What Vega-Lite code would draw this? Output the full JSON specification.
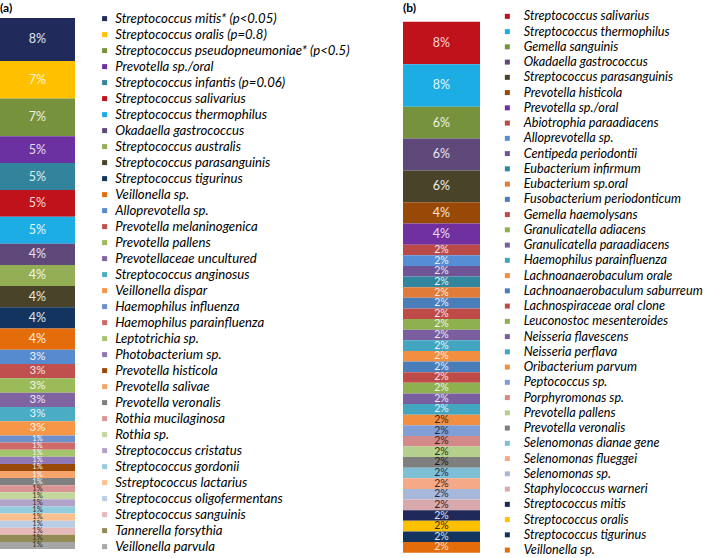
{
  "$schema": "https://vega.github.io/schema/vega-lite/v6.json",
  "padding": {"left": 0, "top": 2, "right": 0, "bottom": 0},
  "background": "white",
  "spacing": 51,
  "config": {"view": {"stroke": null}, "font": "Lato"},
  "resolve": {"scale": {"color": "independent", "y": "independent", "x": "independent", "size": "independent"}, "legend": {"color": "independent"}},
  "datasets": {
    "a": [
      {"order": 1, "species": "Streptococcus mitis* (p<0.05)", "value": 8, "label": "8%"},
      {"order": 2, "species": "Streptococcus oralis (p=0.8)", "value": 7, "label": "7%"},
      {"order": 3, "species": "Streptococcus pseudopneumoniae* (p<0.5)", "value": 7, "label": "7%"},
      {"order": 4, "species": "Prevotella sp./oral", "value": 5, "label": "5%"},
      {"order": 5, "species": "Streptococcus infantis (p=0.06)", "value": 5, "label": "5%"},
      {"order": 6, "species": "Streptococcus salivarius", "value": 5, "label": "5%"},
      {"order": 7, "species": "Streptococcus thermophilus", "value": 5, "label": "5%"},
      {"order": 8, "species": "Okadaella gastrococcus", "value": 3.95, "label": "4%"},
      {"order": 9, "species": "Streptococcus australis", "value": 3.95, "label": "4%"},
      {"order": 10, "species": "Streptococcus parasanguinis", "value": 3.95, "label": "4%"},
      {"order": 11, "species": "Streptococcus tigurinus", "value": 3.95, "label": "4%"},
      {"order": 12, "species": "Veillonella sp.", "value": 3.95, "label": "4%"},
      {"order": 13, "species": "Alloprevotella sp.", "value": 2.66, "label": "3%"},
      {"order": 14, "species": "Prevotella melaninogenica", "value": 2.66, "label": "3%"},
      {"order": 15, "species": "Prevotella pallens", "value": 2.66, "label": "3%"},
      {"order": 16, "species": "Prevotellaceae uncultured", "value": 2.66, "label": "3%"},
      {"order": 17, "species": "Streptococcus anginosus", "value": 2.66, "label": "3%"},
      {"order": 18, "species": "Veillonella dispar", "value": 2.66, "label": "3%"},
      {"order": 19, "species": "Haemophilus influenza", "value": 1.32, "label": "1%"},
      {"order": 20, "species": "Haemophilus parainfluenza", "value": 1.32, "label": "1%"},
      {"order": 21, "species": "Leptotrichia sp.", "value": 1.32, "label": "1%"},
      {"order": 22, "species": "Photobacterium sp.", "value": 1.32, "label": "1%"},
      {"order": 23, "species": "Prevotella histicola", "value": 1.32, "label": "1%"},
      {"order": 24, "species": "Prevotella salivae", "value": 1.32, "label": "1%"},
      {"order": 25, "species": "Prevotella veronalis", "value": 1.32, "label": "1%"},
      {"order": 26, "species": "Rothia mucilaginosa", "value": 1.32, "label": "1%"},
      {"order": 27, "species": "Rothia sp.", "value": 1.32, "label": "1%"},
      {"order": 28, "species": "Streptococcus cristatus", "value": 1.32, "label": "1%"},
      {"order": 29, "species": "Streptococcus gordonii", "value": 1.32, "label": "1%"},
      {"order": 30, "species": "Sstreptococcus lactarius", "value": 1.32, "label": "1%"},
      {"order": 31, "species": "Streptococcus oligofermentans", "value": 1.32, "label": "1%"},
      {"order": 32, "species": "Streptococcus sanguinis", "value": 1.32, "label": "1%"},
      {"order": 33, "species": "Tannerella forsythia", "value": 1.32, "label": "1%"},
      {"order": 34, "species": "Veillonella parvula", "value": 1.32, "label": "1%"}
    ],
    "b": [
      {"order": 1, "species": "Streptococcus salivarius", "value": 8, "label": "8%"},
      {"order": 2, "species": "Streptococcus thermophilus", "value": 8, "label": "8%"},
      {"order": 3, "species": "Gemella sanguinis", "value": 6, "label": "6%"},
      {"order": 4, "species": "Okadaella gastrococcus", "value": 6, "label": "6%"},
      {"order": 5, "species": "Streptococcus parasanguinis", "value": 6, "label": "6%"},
      {"order": 6, "species": "Prevotella histicola", "value": 4, "label": "4%"},
      {"order": 7, "species": "Prevotella sp./oral", "value": 4, "label": "4%"},
      {"order": 8, "species": "Abiotrophia paraadiacens", "value": 2, "label": "2%"},
      {"order": 9, "species": "Alloprevotella sp.", "value": 2, "label": "2%"},
      {"order": 10, "species": "Centipeda periodontii", "value": 2, "label": "2%"},
      {"order": 11, "species": "Eubacterium infirmum", "value": 2, "label": "2%"},
      {"order": 12, "species": "Eubacterium sp.oral", "value": 2, "label": "2%"},
      {"order": 13, "species": "Fusobacterium periodonticum", "value": 2, "label": "2%"},
      {"order": 14, "species": "Gemella haemolysans", "value": 2, "label": "2%"},
      {"order": 15, "species": "Granulicatella adiacens", "value": 2, "label": "2%"},
      {"order": 16, "species": "Granulicatella paraadiacens", "value": 2, "label": "2%"},
      {"order": 17, "species": "Haemophilus parainfluenza", "value": 2, "label": "2%"},
      {"order": 18, "species": "Lachnoanaerobaculum orale", "value": 2, "label": "2%"},
      {"order": 19, "species": "Lachnoanaerobaculum saburreum", "value": 2, "label": "2%"},
      {"order": 20, "species": "Lachnospiraceae oral clone", "value": 2, "label": "2%"},
      {"order": 21, "species": "Leuconostoc mesenteroides", "value": 2, "label": "2%"},
      {"order": 22, "species": "Neisseria flavescens", "value": 2, "label": "2%"},
      {"order": 23, "species": "Neisseria perflava", "value": 2, "label": "2%"},
      {"order": 24, "species": "Oribacterium parvum", "value": 2, "label": "2%"},
      {"order": 25, "species": "Peptococcus sp.", "value": 2, "label": "2%"},
      {"order": 26, "species": "Porphyromonas sp.", "value": 2, "label": "2%"},
      {"order": 27, "species": "Prevotella pallens", "value": 2, "label": "2%"},
      {"order": 28, "species": "Prevotella veronalis", "value": 2, "label": "2%"},
      {"order": 29, "species": "Selenomonas dianae gene", "value": 2, "label": "2%"},
      {"order": 30, "species": "Selenomonas flueggei", "value": 2, "label": "2%"},
      {"order": 31, "species": "Selenomonas sp.", "value": 2, "label": "2%"},
      {"order": 32, "species": "Staphylococcus warneri", "value": 2, "label": "2%"},
      {"order": 33, "species": "Streptococcus mitis", "value": 2, "label": "2%"},
      {"order": 34, "species": "Streptococcus oralis", "value": 2, "label": "2%"},
      {"order": 35, "species": "Streptococcus tigurinus", "value": 2, "label": "2%"},
      {"order": 36, "species": "Veillonella sp.", "value": 2, "label": "2%"}
    ]
  },
  "hconcat": [
    {
      "data": {"name": "a"},
      "width": 75,
      "height": 543,
      "title": {"text": "(a)", "anchor": "start", "fontSize": 12, "fontWeight": "bold", "font": "Lato", "color": "#000000", "offset": -5},
      "transform": [{"stack": "value", "groupby": [], "sort": [{"field": "order", "order": "ascending"}], "as": ["v0", "v1"], "offset": "zero"}],
      "resolve": {"scale": {"color": "independent"}},
      "layer": [
        {
          "mark": {"type": "bar", "strokeWidth": 0},
          "encoding": {
            "x": {"datum": "bar", "type": "nominal", "scale": {"paddingInner": 0, "paddingOuter": 0}, "axis": null},
            "y": {"field": "v0", "type": "quantitative", "scale": {"domain": [-1.489, 99.574], "reverse": true, "nice": false, "zero": false}, "axis": null},
            "y2": {"field": "v1"},
            "color": {
              "field": "species", "type": "nominal",
              "sort": {"field": "order", "op": "min", "order": "ascending"},
              "scale": {"range": ["#202B5C","#FFC000","#76923C","#6B31A0","#31849B","#C0121A","#1CADE4","#5F497A","#93AE54","#494429","#12345E","#E46C0A","#578BD0","#C0504D","#9BBB59","#8064A2","#4BACC6","#F79646","#6E8FCB","#D06A68","#A5C46E","#9077B5","#984807","#F5A56B","#7F7F7F","#D99694","#C3D69B","#B3A2C7","#93CDDD","#FAC090","#B9CDE5","#E6B9B8","#948A54","#A6A6A6"]},
              "legend": {"title": null, "orient": "right", "offset": 20.5, "padding": 2, "symbolType": "square", "symbolSize": 25, "symbolStrokeWidth": 0, "labelFont": "Lato", "labelFontStyle": "italic", "labelFontSize": 13.2, "labelColor": "#000000", "rowPadding": 2.0, "labelOffset": 4, "symbolLimit": 100, "labelLimit": 400}
            }
          }
        },
        {
          "transform": [{"fold": ["v0", "v1"], "as": ["edge", "pos"]}],
          "mark": {"type": "text", "font": "Lato", "align": "center", "baseline": "middle"},
          "encoding": {
            "x": {"datum": "bar", "type": "nominal"},
            "y": {"aggregate": "mean", "field": "pos", "type": "quantitative"},
            "text": {"field": "label"},
            "detail": {"field": "order", "type": "ordinal"},
            "color": {
              "field": "species", "type": "nominal",
              "sort": {"field": "order", "op": "min", "order": "ascending"},
              "scale": {"range": ["#E3E6F0","#FFF4D6","#EEF3E2","#E9DDF4","#DDF0F5","#FAD9D9","#E8F7FD","#E9E3F0","#F0F5E6","#EFEBDA","#E1E8F3","#FDEDDD","#F0F4FB","#FCE4E4","#F4F8EA","#EEE8F5","#E6F5F9","#FEF0E0","#F5F5F5","#F5F5F5","#F5F5F5","#F5F5F5","#F5F5F5","#F5F5F5","#F5F5F5","#2B2B2B","#2B2B2B","#2B2B2B","#2B2B2B","#2B2B2B","#2B2B2B","#2B2B2B","#2B2B2B","#2B2B2B"]},
              "legend": null
            },
            "size": {"field": "value", "type": "quantitative", "scale": {"type": "threshold", "domain": [2, 3.5], "range": [7.5, 11.5, 12.5]}, "legend": null}
          }
        }
      ]
    },
    {
      "data": {"name": "b"},
      "width": 77,
      "height": 543,
      "title": {"text": "(b)", "anchor": "start", "fontSize": 12, "fontWeight": "bold", "font": "Lato", "color": "#000000", "offset": -5},
      "transform": [{"stack": "value", "groupby": [], "sort": [{"field": "order", "order": "ascending"}], "as": ["v0", "v1"], "offset": "zero"}],
      "resolve": {"scale": {"color": "independent"}},
      "layer": [
        {
          "mark": {"type": "bar", "strokeWidth": 0},
          "encoding": {
            "x": {"datum": "bar", "type": "nominal", "scale": {"paddingInner": 0, "paddingOuter": 0}, "axis": null},
            "y": {"field": "v0", "type": "quantitative", "scale": {"domain": [-2.203, 100.056], "reverse": true, "nice": false, "zero": false}, "axis": null},
            "y2": {"field": "v1"},
            "color": {
              "field": "species", "type": "nominal",
              "sort": {"field": "order", "op": "min", "order": "ascending"},
              "scale": {"range": ["#C0121A","#1CADE4","#76923C","#5F497A","#494429","#984807","#7030A0","#B94A48","#558ED5","#6F5597","#31859C","#E07B39","#4A7EBB","#BE4B48","#8FB04F","#7A5FA0","#43A6C1","#F28E3F","#4A7EBB","#BE4B48","#8FB04F","#7A5FA0","#43A6C1","#F28E3F","#819FD4","#D48A88","#B5CF8C","#7F7F7F","#7DC0D6","#F6A987","#A8B8DA","#D9A9AE","#1F2A5A","#FFC000","#12345E","#E46C0A"]},
              "legend": {"title": null, "orient": "right", "offset": 20.5, "padding": 0, "symbolType": "square", "symbolSize": 25, "symbolStrokeWidth": 0, "labelFont": "Lato", "labelFontStyle": "italic", "labelFontSize": 12.7, "labelColor": "#000000", "rowPadding": 1.25, "labelOffset": 10, "symbolLimit": 100, "labelLimit": 400}
            }
          }
        },
        {
          "transform": [{"fold": ["v0", "v1"], "as": ["edge", "pos"]}],
          "mark": {"type": "text", "font": "Lato", "align": "center", "baseline": "middle"},
          "encoding": {
            "x": {"datum": "bar", "type": "nominal"},
            "y": {"aggregate": "mean", "field": "pos", "type": "quantitative"},
            "text": {"field": "label"},
            "detail": {"field": "order", "type": "ordinal"},
            "color": {
              "field": "species", "type": "nominal",
              "sort": {"field": "order", "op": "min", "order": "ascending"},
              "scale": {"range": ["#FAD9D9","#E6F6FD","#EEF3E2","#E9E4F0","#EFECE0","#FBE6D6","#EBDDF5","#F5EAEA","#EAF0FA","#EEE8F5","#E6F4F8","#FCEBDD","#EAF0FA","#F8E6E6","#F0F6E4","#EEE8F5","#E6F4F8","#FCEBDD","#EAF0FA","#F8E6E6","#F0F6E4","#EEE8F5","#E6F4F8","#3A2818","#1F2A4A","#3A1F1F","#1E3A10","#1A1A1A","#1F2A4A","#3A2818","#1F2A4A","#3A1F1F","#DCE2F5","#3A2A00","#DCE2F5","#FDE4CC"]},
              "legend": null
            },
            "size": {"field": "value", "type": "quantitative", "scale": {"type": "threshold", "domain": [3], "range": [10.5, 12.5]}, "legend": null}
          }
        }
      ]
    }
  ]
}
